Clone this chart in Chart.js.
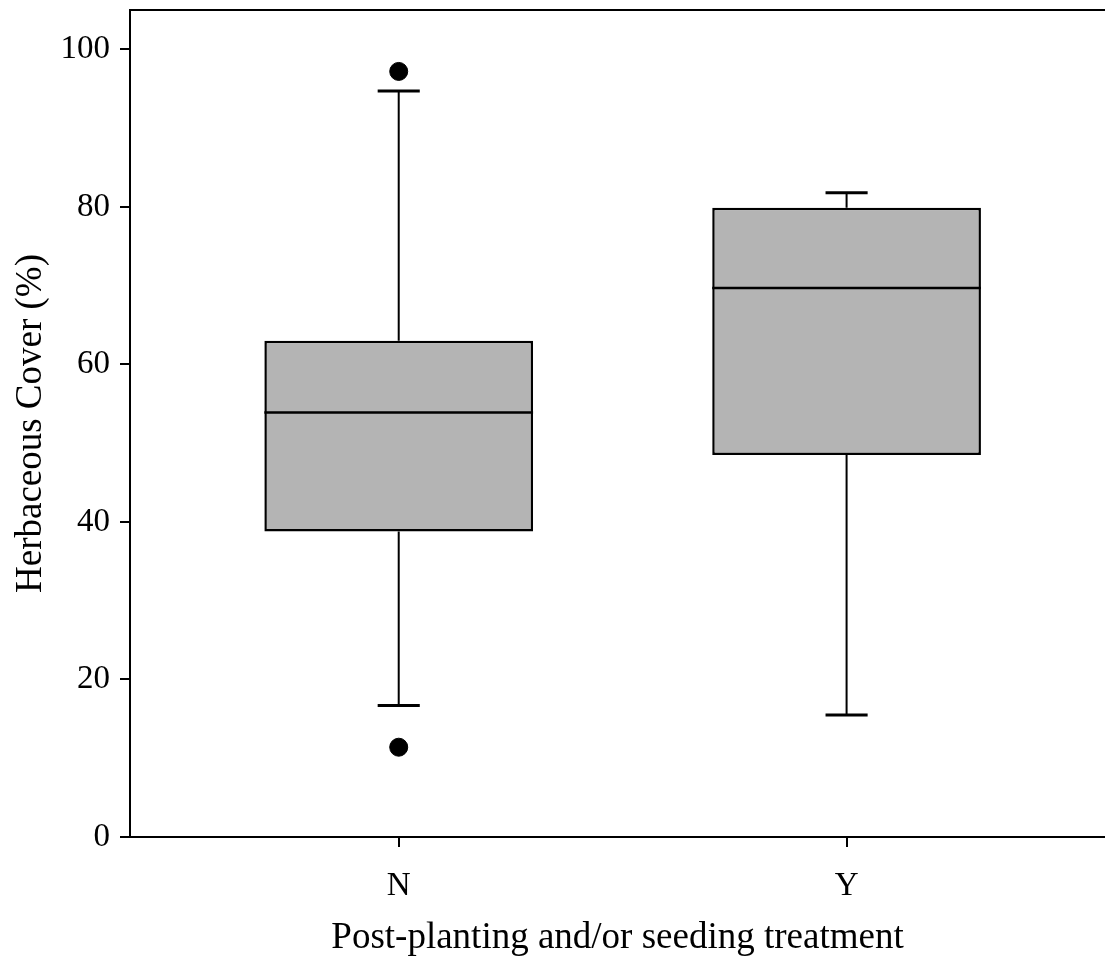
<!DOCTYPE html>
<html>
<head>
<meta charset="utf-8">
<script src="https://cdn.jsdelivr.net/npm/chart.js@4"></script>
<style>
  html, body { margin: 0; padding: 0; background: #fff; overflow: hidden; }
  #wrap { width: 1105px; height: 967px; }
</style>
</head>
<body>
<div id="wrap"><canvas id="chart" width="1105" height="967"></canvas></div>
<script>
// Box plot values
const categories = ["N", "Y"]
const positions = [1, 2]
const whiskerLow = [16.7, 15.5]
const q1 = [38.8, 48.5]
const median = [53.9, 69.7]
const q3 = [63.0, 79.9]
const whiskerHigh = [94.7, 81.8]
const outlierX = [1, 1]
const outlierY = [97.2, 11.4]
const yTicks = [0, 20, 40, 60, 80, 100]

const serif = "'Liberation Serif', 'Times New Roman', serif"

// whiskers, caps, median lines and the top frame line
const boxParts = {
  id: "boxParts",
  afterDatasetsDraw(chart) {
    const { ctx, chartArea, scales } = chart
    const x = scales.x
    const y = scales.y
    const bars = chart.getDatasetMeta(0).data
    ctx.save()
    ctx.strokeStyle = "#000"
    positions.forEach((pos, i) => {
      const px = x.getPixelForValue(pos)
      const capHalf = x.getPixelForValue(pos + 0.047) - px
      ctx.lineWidth = 2
      ctx.beginPath()
      ctx.moveTo(px, y.getPixelForValue(q3[i]))
      ctx.lineTo(px, y.getPixelForValue(whiskerHigh[i]))
      ctx.moveTo(px, y.getPixelForValue(q1[i]))
      ctx.lineTo(px, y.getPixelForValue(whiskerLow[i]))
      ctx.stroke()
      ctx.lineWidth = 3
      ctx.beginPath()
      ctx.moveTo(px - capHalf, y.getPixelForValue(whiskerHigh[i]))
      ctx.lineTo(px + capHalf, y.getPixelForValue(whiskerHigh[i]))
      ctx.moveTo(px - capHalf, y.getPixelForValue(whiskerLow[i]))
      ctx.lineTo(px + capHalf, y.getPixelForValue(whiskerLow[i]))
      ctx.stroke()
      // median across the box
      const bar = bars[i]
      ctx.lineWidth = 2.5
      ctx.beginPath()
      ctx.moveTo(bar.x - bar.width / 2, y.getPixelForValue(median[i]))
      ctx.lineTo(bar.x + bar.width / 2, y.getPixelForValue(median[i]))
      ctx.stroke()
    })
    ctx.lineWidth = 2
    ctx.beginPath()
    ctx.moveTo(chartArea.left, chartArea.top)
    ctx.lineTo(chartArea.right, chartArea.top)
    ctx.stroke()
    ctx.restore()
  },
}

const ctx = document.getElementById("chart").getContext("2d")

new Chart(ctx, {
  type: "bar",
  data: {
    datasets: [
      {
        type: "bar",
        data: positions.map((p, i) => ({ x: p, y: [q1[i], q3[i]] })),
        backgroundColor: "#b4b4b4",
        borderColor: "#000",
        borderWidth: 2.5,
        borderSkipped: false,
        barPercentage: 0.6,
        categoryPercentage: 1,
      },
      {
        type: "scatter",
        data: outlierX.map((p, i) => ({ x: p, y: outlierY[i] })),
        backgroundColor: "#000",
        borderColor: "#000",
        pointRadius: 9,
        pointHoverRadius: 9,
      },
    ],
  },
  options: {
    responsive: false,
    animation: false,
    layout: { padding: { top: 10, left: 0, right: 0, bottom: 0 }, autoPadding: false },
    plugins: {
      legend: { display: false },
      tooltip: { enabled: false },
    },
    scales: {
      x: {
        type: "linear",
        offset: false,
        min: 0.4,
        max: 2.577,
        afterFit: (scale) => {
          scale.height = 130
          scale.paddingLeft = 0
          scale.paddingRight = 0
        },
        afterBuildTicks: (scale) => {
          scale.ticks = positions.map((v) => ({ value: v }))
        },
        ticks: {
          callback: (v) => categories[positions.indexOf(v)],
          color: "#000",
          font: { family: serif, size: 33 },
          padding: 20,
          maxRotation: 0,
        },
        grid: {
          offset: false,
          drawOnChartArea: false,
          tickLength: 10,
          color: "#000",
          lineWidth: 2,
        },
        border: { display: true, color: "#000", width: 2 },
        title: {
          display: true,
          text: "Post-planting and/or seeding treatment",
          color: "#000",
          font: { family: serif, size: 37 },
          padding: { top: 0, bottom: 7 },
        },
      },
      y: {
        min: 0,
        max: 105,
        afterFit: (scale) => {
          scale.width = 130
          scale.paddingTop = 0
          scale.paddingBottom = 0
        },
        afterBuildTicks: (scale) => {
          scale.ticks = yTicks.map((v) => ({ value: v }))
        },
        ticks: {
          color: "#000",
          font: { family: serif, size: 33 },
          padding: 10,
        },
        grid: {
          drawOnChartArea: false,
          tickLength: 10,
          color: "#000",
          lineWidth: 2,
        },
        border: { display: true, color: "#000", width: 2 },
        title: {
          display: true,
          text: "Herbaceous Cover (%)",
          color: "#000",
          font: { family: serif, size: 37 },
          padding: { top: 9, bottom: 0 },
        },
      },
    },
  },
  plugins: [boxParts],
})
</script>
</body>
</html>
